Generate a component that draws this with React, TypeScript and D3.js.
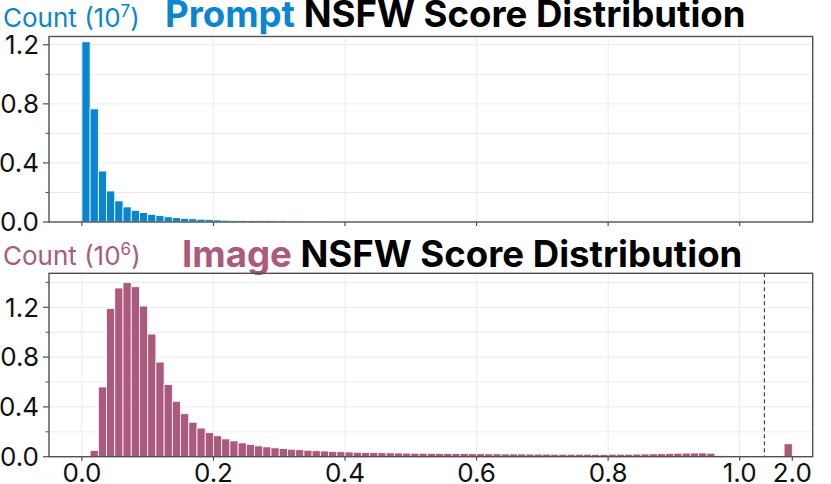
import React from "react";
import * as d3 from "d3";

// ---- DATA ----
const BIN_WIDTH = 0.0125;
// Prompt NSFW score histogram, counts in units of 10^7, bins starting at 0.0
const promptCounts = [
  1.22, 0.766, 0.345, 0.21, 0.143, 0.102, 0.079, 0.064, 0.052, 0.043,
  0.035, 0.029, 0.025, 0.022, 0.019, 0.016, 0.014, 0.012, 0.011, 0.011,
  0.01, 0.009, 0.009, 0.008, 0.008, 0.007, 0.007, 0.006, 0.006, 0.006,
  0.005, 0.005, 0.005, 0.004,
];
// Image NSFW score histogram, counts in units of 10^6, bins starting at 0.0
const imageCounts = [
  0, 0.05, 0.56, 1.19, 1.355, 1.4, 1.365, 1.21, 0.985, 0.76,
  0.58, 0.445, 0.345, 0.277, 0.23, 0.193, 0.168, 0.143, 0.127, 0.111,
  0.099, 0.087, 0.079, 0.071, 0.065, 0.06, 0.056, 0.052, 0.048, 0.046,
  0.043, 0.04, 0.038, 0.036, 0.034, 0.033, 0.032, 0.031, 0.03, 0.029,
  0.028, 0.028, 0.027, 0.026, 0.026, 0.025, 0.025, 0.024, 0.024, 0.023,
  0.023, 0.022, 0.022, 0.022, 0.021, 0.021, 0.021, 0.02, 0.02, 0.02,
  0.02, 0.02, 0.019, 0.019, 0.02, 0.02, 0.02, 0.021, 0.022, 0.023,
  0.024, 0.026, 0.028, 0.029, 0.03, 0.03, 0.028, 0.01,
];
// Overflow bin (score 2.0 = sentinel), units of 10^6
const imageOverflowBin = { start: 1.9875, value: 0.104 };
const xTicks = [0.0, 0.2, 0.4, 0.6, 0.8, 1.0];
const xTickLabels = ["0.0", "0.2", "0.4", "0.6", "0.8", "1.0"];
const overflowTick = { value: 2.0, label: "2.0" };
const breakAt = 1.0375;
const yMajor = [0.0, 0.4, 0.8, 1.2];
const yMinorTop = [0.2, 0.6, 1.0];
const yMinorBottom = [0.2, 0.6, 1.0, 1.4];

const BLUE = "#0A86D0";
const MAUVE = "#AB5A7D";
const FONT = "Inter, 'Noto Sans', sans-serif";
const TICK_FS = 26;

// display mapping for broken axis
const disp = (v: number) => (v > 1.5 ? v - 0.92 : v);

const W = 831;
const H = 484;
const left = 49;
const right = 812.7;

const x = d3.scaleLinear().domain([-0.05, 1.111]).range([left, right]);

function Panel({
  top,
  bottom,
  yMax,
  counts,
  color,
  minor,
  showXLabels,
  overflow,
}: {
  top: number;
  bottom: number;
  yMax: number;
  counts: number[];
  color: string;
  minor: number[];
  showXLabels: boolean;
  overflow?: { start: number; value: number };
}) {
  const y = d3.scaleLinear().domain([0, yMax]).range([bottom, top]);
  const grid = [...yMajor, ...minor].filter((v) => v > 0);
  return (
    <g>
      {grid.map((v) => (
        <line key={"gy" + v} x1={left} x2={right} y1={y(v)} y2={y(v)} stroke="#ebebeb" strokeWidth={1} />
      ))}
      {xTicks.map((v) => (
        <line key={"gx" + v} x1={x(v)} x2={x(v)} y1={top} y2={bottom} stroke="#ebebeb" strokeWidth={1} />
      ))}
      {counts.map((c, i) =>
        c > 0 ? (
          <rect
            key={"b" + i}
            x={x(i * BIN_WIDTH)}
            width={x((i + 1) * BIN_WIDTH) - x(i * BIN_WIDTH)}
            y={y(c)}
            height={bottom - y(c)}
            fill={color}
            stroke="#fff"
            strokeWidth={0.8}
          />
        ) : null
      )}
      {overflow ? (
        <rect
          x={x(disp(overflow.start))}
          width={x(disp(overflow.start + BIN_WIDTH)) - x(disp(overflow.start))}
          y={y(overflow.value)}
          height={bottom - y(overflow.value)}
          fill={color}
          stroke="#fff"
          strokeWidth={0.8}
        />
      ) : null}
      {overflow ? (
        <line x1={x(breakAt)} x2={x(breakAt)} y1={top} y2={bottom} stroke="#222" strokeWidth={1} strokeDasharray="4,3" />
      ) : null}
      <rect x={left} y={top} width={right - left} height={bottom - top} fill="none" stroke="#505050" strokeWidth={1.4} />
      {yMajor.map((v) => (
        <g key={"ym" + v}>
          <line x1={left - 6} x2={left} y1={y(v)} y2={y(v)} stroke="#505050" strokeWidth={1.2} />
          <text x={left - 10} y={y(v)} dy="0.36em" textAnchor="end" fontSize={TICK_FS} fontFamily={FONT} fill="#111">
            {v.toFixed(1)}
          </text>
        </g>
      ))}
      {minor.map((v) => (
        <line key={"yn" + v} x1={left - 3.5} x2={left} y1={y(v)} y2={y(v)} stroke="#505050" strokeWidth={1} />
      ))}
      {xTicks.map((v, i) => (
        <g key={"xt" + v}>
          <line x1={x(v)} x2={x(v)} y1={bottom} y2={bottom + 4} stroke="#505050" strokeWidth={1.2} />
          {showXLabels ? (
            <text x={x(v)} y={bottom + 25.5} textAnchor="middle" fontSize={TICK_FS} fontFamily={FONT} fill="#111">
              {xTickLabels[i]}
            </text>
          ) : null}
        </g>
      ))}
      {overflow ? (
        <g>
          <line x1={x(disp(overflowTick.value))} x2={x(disp(overflowTick.value))} y1={bottom} y2={bottom + 4} stroke="#505050" strokeWidth={1.2} />
          <text x={x(disp(overflowTick.value))} y={bottom + 25.5} textAnchor="middle" fontSize={TICK_FS} fontFamily={FONT} fill="#111">
            {overflowTick.label}
          </text>
        </g>
      ) : null}
    </g>
  );
}

export default function App() {
  return (
    <svg width={W} height={H} style={{ position: "absolute", left: 0, top: 0, background: "#fff" }}>
      <text x={3} y={26.5} fontSize={26} fontFamily={FONT} fill={BLUE}>
        Count (10<tspan dy={-10} fontSize={17}>7</tspan><tspan dy={10}>)</tspan>
      </text>
      <text x={165} y={27} fontSize={36.6} fontWeight={700} fontFamily={FONT}>
        <tspan fill={BLUE}>Prompt</tspan>
        <tspan fill="#000"> NSFW Score Distribution</tspan>
      </text>
      <Panel top={36.5} bottom={222} yMax={1.256} counts={promptCounts} color={BLUE} minor={yMinorTop} showXLabels={false} />

      <text x={3} y={265} fontSize={26} fontFamily={FONT} fill={MAUVE}>
        Count (10<tspan dy={-10} fontSize={17}>6</tspan><tspan dy={10}>)</tspan>
      </text>
      <text x={182} y={266.5} fontSize={36.6} fontWeight={700} fontFamily={FONT}>
        <tspan fill={MAUVE}>Image</tspan>
        <tspan fill="#000"> NSFW Score Distribution</tspan>
      </text>
      <Panel
        top={273.3}
        bottom={456.7}
        yMax={1.473}
        counts={imageCounts}
        color={MAUVE}
        minor={yMinorBottom}
        showXLabels={true}
        overflow={imageOverflowBin}
      />
    </svg>
  );
}
